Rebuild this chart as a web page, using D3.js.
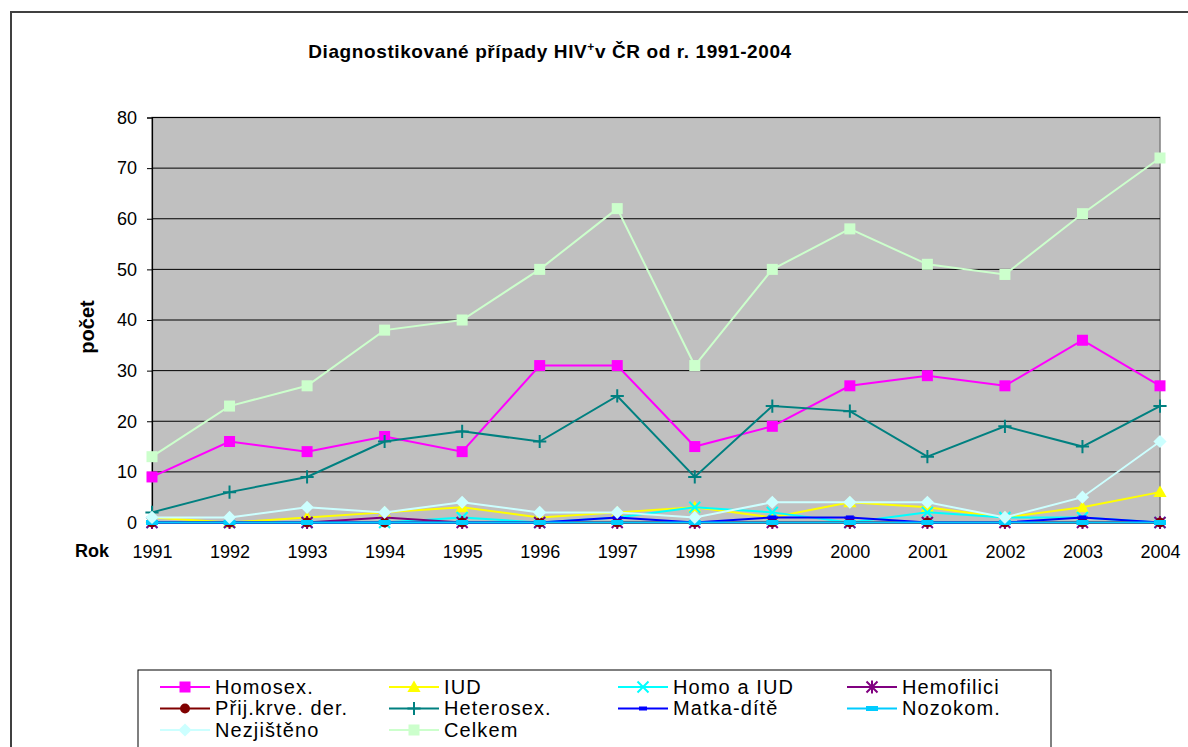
<!DOCTYPE html>
<html><head><meta charset="utf-8">
<script src="https://cdn.jsdelivr.net/npm/d3@7"></script>
<style>body{margin:0;background:#fff} svg{display:block;font-family:Arial,"Liberation Sans",sans-serif}</style>
</head><body><svg id="c" width="1188" height="747"></svg>
<script>
const years = [1991,1992,1993,1994,1995,1996,1997,1998,1999,2000,2001,2002,2003,2004];
const yTicks = [0,10,20,30,40,50,60,70,80];
const homosex    = [9,16,14,17,14,31,31,15,19,27,29,27,36,27];
const iud        = [1,0,1,2,3,1,2,3,1,4,3,1,3,6];
const homoIud    = [0,0,0,0,1,0,1,3,2,0,2,1,1,0];
const hemofilici = [0,0,0,1,0,0,0,0,0,0,0,0,0,0];
const prijKrve   = [0,0,0,0,0,0,0,0,0,0,0,0,0,0];
const heterosex  = [2,6,9,16,18,16,25,9,23,22,13,19,15,23];
const matkaDite  = [0,0,0,0,0,0,1,0,1,1,0,0,1,0];
const nozokom    = [0,0,0,0,0,0,0,0,0,0,0,0,0,0];
const nezjisteno = [1,1,3,2,4,2,2,1,4,4,4,1,5,16];
const celkem     = [13,23,27,38,40,50,62,31,50,58,51,49,61,72];
const seriesNames = ["Homosex.","IUD","Homo a IUD","Hemofilici","Přij.krve. der.","Heterosex.","Matka-dítě","Nozokom.","Nezjištěno","Celkem"];

const series = [
  {name:seriesNames[0], values:homosex,    color:"#FF00FF", marker:"square"},
  {name:seriesNames[1], values:iud,        color:"#FFFF00", marker:"triangle"},
  {name:seriesNames[2], values:homoIud,    color:"#00FFFF", marker:"x"},
  {name:seriesNames[3], values:hemofilici, color:"#800080", marker:"star"},
  {name:seriesNames[4], values:prijKrve,   color:"#800000", marker:"circle"},
  {name:seriesNames[5], values:heterosex,  color:"#008080", marker:"plus"},
  {name:seriesNames[6], values:matkaDite,  color:"#0000FF", marker:"dash"},
  {name:seriesNames[7], values:nozokom,    color:"#00CCFF", marker:"bar"},
  {name:seriesNames[8], values:nezjisteno, color:"#CCFFFF", marker:"diamond"},
  {name:seriesNames[9], values:celkem,     color:"#CCFFCC", marker:"square"}
];

const svg = d3.select("#c");
// outer frame
svg.append("rect").attr("x",11).attr("y",12).attr("width",1200).attr("height",800)
  .attr("fill","none").attr("stroke","#404040").attr("stroke-width",2);

const L=152, R=1160, T=117.5, B=522.5;
const x = d3.scalePoint().domain(years).range([L,R]);
const y = d3.scaleLinear().domain([0,80]).range([B,T]);

// plot area
svg.append("rect").attr("x",L).attr("y",T).attr("width",R-L).attr("height",B-T)
  .attr("fill","#C0C0C0").attr("stroke","#808080").attr("stroke-width",1.5);
// gridlines
svg.append("g").selectAll("line").data(yTicks.filter(d=>d>0)).join("line")
  .attr("x1",L).attr("x2",R).attr("y1",d=>y(d)).attr("y2",d=>y(d))
  .attr("stroke","#000").attr("stroke-width",1);

// y axis
const ya = svg.append("g").attr("transform",`translate(${L},0)`)
  .call(d3.axisLeft(y).tickValues(yTicks).tickSize(5).tickPadding(10));
ya.select(".domain").attr("stroke","#000").attr("stroke-width",1.2);
ya.selectAll(".tick line").attr("stroke","#000");
ya.selectAll("text").attr("font-size","18px").attr("fill","#000").attr("font-family","Arial, 'Liberation Sans', sans-serif");

// x axis
const xa = svg.append("g").attr("transform",`translate(0,${B})`)
  .call(d3.axisBottom(x).tickSize(5).tickPadding(18).tickSizeOuter(0));
xa.select(".domain").attr("stroke","#000").attr("stroke-width",1.2);
xa.selectAll(".tick line").attr("stroke","#000");
xa.selectAll("text").attr("font-size","18px").attr("fill","#000").attr("font-family","Arial, 'Liberation Sans', sans-serif");

// axis titles
svg.append("text").attr("x",75).attr("y",557).attr("font-size","18px").attr("font-weight","bold").text("Rok");
svg.append("text").attr("transform","translate(94,327) rotate(-90)").attr("text-anchor","middle")
  .attr("font-size","20px").attr("font-weight","bold").text("počet");

// title
const tt = svg.append("text").attr("x",550).attr("y",58).attr("text-anchor","middle")
  .attr("font-size","19px").attr("font-weight","bold").attr("letter-spacing","0.6px");
tt.append("tspan").text("Diagnostikované případy HIV");
tt.append("tspan").attr("dy",-7).attr("font-size","12px").text("+");
tt.append("tspan").attr("dy",7).text("v ČR od r. 1991-2004");

function drawMarker(g, type, color, s){
  switch(type){
    case "square": g.append("rect").attr("x",-s/2).attr("y",-s/2).attr("width",s).attr("height",s).attr("fill",color); break;
    case "triangle": g.append("path").attr("d",`M0,${-s*0.6}L${s*0.6},${s*0.45}L${-s*0.6},${s*0.45}Z`).attr("fill",color); break;
    case "diamond": g.append("path").attr("d",`M0,${-s*0.6}L${s*0.6},0L0,${s*0.6}L${-s*0.6},0Z`).attr("fill",color); break;
    case "circle": g.append("circle").attr("r",s*0.45).attr("fill",color); break;
    case "x": g.append("path").attr("d",`M${-s/2},${-s/2}L${s/2},${s/2}M${s/2},${-s/2}L${-s/2},${s/2}`).attr("stroke",color).attr("stroke-width",2); break;
    case "plus": g.append("path").attr("d",`M${-s*0.6},0L${s*0.6},0M0,${-s*0.6}L0,${s*0.6}`).attr("stroke",color).attr("stroke-width",2); break;
    case "star": g.append("path").attr("d",`M${-s/2},${-s/2}L${s/2},${s/2}M${s/2},${-s/2}L${-s/2},${s/2}M0,${-s*0.6}L0,${s*0.6}`).attr("stroke",color).attr("stroke-width",2); break;
    case "dash": g.append("rect").attr("x",-4).attr("y",-2).attr("width",8).attr("height",4).attr("fill",color); break;
    case "bar": g.append("rect").attr("x",-6).attr("y",-2.5).attr("width",12).attr("height",5).attr("fill",color); break;
  }
}

const line = d3.line().x((d,i)=>x(years[i])).y(d=>y(d));
series.forEach(s=>{
  const g = svg.append("g");
  g.append("path").datum(s.values).attr("d",line).attr("fill","none")
    .attr("stroke",s.color).attr("stroke-width",2);
  s.values.forEach((v,i)=>{
    const mg = g.append("g").attr("transform",`translate(${x(years[i])},${y(v)})`);
    drawMarker(mg, s.marker, s.color, 11);
  });
});

// legend
svg.append("rect").attr("x",138).attr("y",670).attr("width",913).attr("height",120)
  .attr("fill","#fff").attr("stroke","#000").attr("stroke-width",1);
const colX = [160,389,618,847], rowY = [687,708.5,730];
series.forEach((s,i)=>{
  const cx = colX[i%4], cy = rowY[Math.floor(i/4)];
  const g = svg.append("g");
  g.append("line").attr("x1",cx).attr("x2",cx+50).attr("y1",cy).attr("y2",cy).attr("stroke",s.color).attr("stroke-width",2);
  const mg = g.append("g").attr("transform",`translate(${cx+25},${cy})`);
  drawMarker(mg, s.marker, s.color, 11);
  g.append("text").attr("x",cx+55).attr("y",cy+6.5).attr("font-size","20px").attr("letter-spacing","1.1px").text(s.name);
});
</script></body></html>
